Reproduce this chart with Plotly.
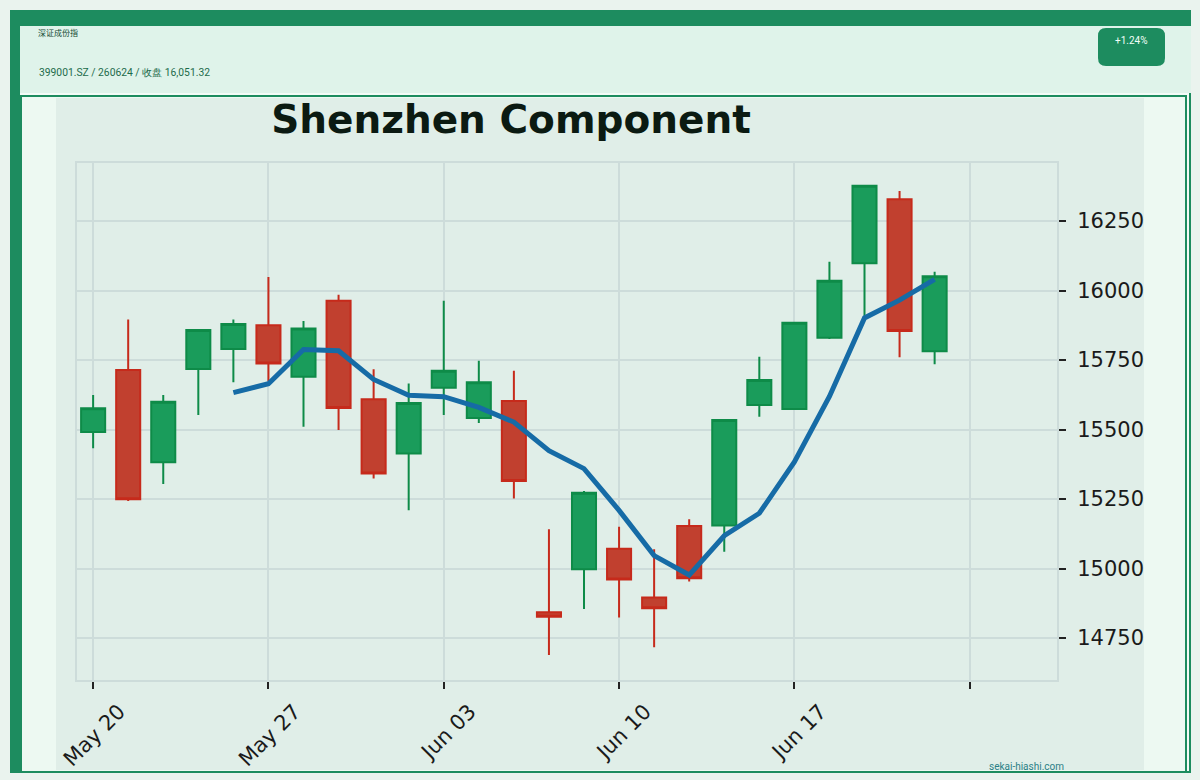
import plotly.graph_objects as go

# ---------------- data ----------------
dates = ["2024-05-20", "2024-05-21", "2024-05-22", "2024-05-23", "2024-05-24",
         "2024-05-27", "2024-05-28", "2024-05-29", "2024-05-30", "2024-05-31",
         "2024-06-03", "2024-06-04", "2024-06-05", "2024-06-06", "2024-06-07",
         "2024-06-10", "2024-06-11", "2024-06-12", "2024-06-13", "2024-06-14",
         "2024-06-17", "2024-06-18", "2024-06-19", "2024-06-20", "2024-06-21"]
opens = [15491, 15714, 15382, 15718, 15790,
         15875, 15690, 15963, 15609, 15414,
         15650, 15542, 15603, 14843, 14997,
         15071, 14896, 15153, 15155, 15588,
         15574, 15830, 16098, 16329, 15782]
highs = [15624, 15896, 15624, 15860, 15896,
         16049, 15891, 15985, 15717, 15666,
         15963, 15748, 15712, 15141, 15279,
         15150, 15069, 15177, 15537, 15762,
         15886, 16104, 16380, 16358, 16068]
lows = [15433, 15243, 15304, 15552, 15670,
        15674, 15510, 15498, 15324, 15210,
        15552, 15524, 15252, 14689, 14854,
        14824, 14717, 14953, 15060, 15546,
        15570, 15826, 15906, 15760, 15735]
closes = [15577, 15249, 15600, 15858, 15880,
          15738, 15864, 15578, 15342, 15596,
          15712, 15670, 15315, 14827, 15273,
          14961, 14857, 14965, 15534, 15678,
          15884, 16035, 16377, 15854.72, 16051.32]
ma5 = [None, None, None, None, 15632.8,
       15665.0, 15788.0, 15783.6, 15680.4, 15623.6,
       15618.4, 15579.6, 15527.0, 15424.0, 15359.4,
       15209.2, 15046.6, 14976.6, 15118.0, 15199.0,
       15383.6, 15619.2, 15901.6, 15965.7, 16040.4]
tick_index = [0, 5, 10, 15, 20, 25]
tick_labels = ["May 20", "May 27", "Jun 03", "Jun 10", "Jun 17", ""]
y_ticks = [14750, 15000, 15250, 15500, 15750, 16000, 16250]

title_text = "Shenzhen Component"
header_title = "深证成份指"
header_sub = "399001.SZ / 260624 / 收盘 16,051.32"
badge_text = "+1.24%"
watermark = "sekai-hiashi.com"

# ---------------- layout helpers ----------------
W, H = 1200, 780
def px(x):
    return x / W
def py(y):
    return 1 - y / H

GREEN = "#1d8c5f"
x_pos = list(range(len(dates)))

fig = go.Figure()
fig.add_trace(go.Candlestick(
    x=x_pos, open=opens, high=highs, low=lows, close=closes,
    increasing=dict(fillcolor="#1a9c5b", line=dict(color="#0e8b48", width=2)),
    decreasing=dict(fillcolor="#c1402f", line=dict(color="#c62a1b", width=2)),
    whiskerwidth=0, showlegend=False, hoverinfo="skip",
))
fig.add_trace(go.Scatter(
    x=x_pos, y=ma5, mode="lines",
    line=dict(color="#166ba6", width=5), showlegend=False, hoverinfo="skip",
))

shapes = []
def rect(x0, y0, x1, y1, fill, line_color=None, lw=0):
    shapes.append(dict(type="rect", xref="paper", yref="paper",
                       x0=px(x0), x1=px(x1), y0=py(y1), y1=py(y0),
                       fillcolor=fill, layer="below",
                       line=dict(color=line_color or fill, width=lw)))

rect(10, 10, 1191, 773, GREEN)
rect(20, 26, 1191, 93, "#dff3ea")
rect(20, 93, 1189, 771, "#f3fbf7")
rect(21, 96, 1186, 772, "#edf9f2", GREEN, 2)
rect(56, 98, 1144, 770, "#e0eee8")

# badge (rounded rectangle)
bx0, by0, bx1, by1, r = 1098, 28, 1165, 66, 8
pts = [
    f"M{px(bx0 + r)},{py(by0)}", f"L{px(bx1 - r)},{py(by0)}",
    f"Q{px(bx1)},{py(by0)} {px(bx1)},{py(by0 + r)}",
    f"L{px(bx1)},{py(by1 - r)}",
    f"Q{px(bx1)},{py(by1)} {px(bx1 - r)},{py(by1)}",
    f"L{px(bx0 + r)},{py(by1)}",
    f"Q{px(bx0)},{py(by1)} {px(bx0)},{py(by1 - r)}",
    f"L{px(bx0)},{py(by0 + r)}",
    f"Q{px(bx0)},{py(by0)} {px(bx0 + r)},{py(by0)}", "Z",
]
shapes.append(dict(type="path", xref="paper", yref="paper", path=" ".join(pts),
                   fillcolor=GREEN, line=dict(width=0), layer="above"))

annotations = [
    dict(text=header_title, x=px(36), y=py(33), xref="paper", yref="paper",
         xanchor="left", yanchor="middle", showarrow=False,
         font=dict(family="Noto Sans CJK SC", size=8, color="#134a33")),
    dict(text=header_sub, x=px(37), y=py(72), xref="paper", yref="paper",
         xanchor="left", yanchor="middle", showarrow=False,
         font=dict(family="Roboto", size=10.3, color="#1d6b4b")),
    dict(text=badge_text, x=px(1131.5), y=py(40), xref="paper", yref="paper",
         xanchor="center", yanchor="middle", showarrow=False,
         font=dict(family="Roboto", size=10, color="#f2fff8")),
    dict(text=watermark, x=px(1026), y=py(766), xref="paper", yref="paper",
         xanchor="center", yanchor="middle", showarrow=False,
         font=dict(family="Roboto", size=10, color="#2b7f86")),
]

AX_LINE = "#cddcda"
fig.update_layout(
    width=W, height=H,
    margin=dict(l=0, r=0, t=0, b=0, autoexpand=False),
    paper_bgcolor="#eaf3ee",
    plot_bgcolor="#e0eee8",
    boxgap=0.02, boxgroupgap=0.3,
    shapes=shapes,
    annotations=annotations,
    title=dict(text=f"<b>{title_text}</b>", x=px(511), y=py(119),
               xanchor="center", yanchor="middle", xref="paper", yref="container",
               font=dict(family="DejaVu Sans", size=39, color="#0b1a12")),
    xaxis=dict(
        domain=[px(77), px(1057)],
        range=[-0.46, 27.49],
        tickmode="array", tickvals=tick_index, ticktext=tick_labels,
        showgrid=True, gridcolor=AX_LINE, gridwidth=2,
        showline=True, mirror=True, linecolor=AX_LINE, linewidth=2,
        ticks="outside", ticklen=7, tickwidth=2, tickcolor="#222222",
        tickangle=-45, ticklabelshift=26, ticklabelstandoff=2,
        tickfont=dict(family="DejaVu Sans", size=21, color="#1a1a1a"),
        zeroline=False, rangeslider=dict(visible=False), fixedrange=True,
        automargin=False,
    ),
    yaxis=dict(
        domain=[py(680), py(163)],
        range=[14599, 16459],
        side="right",
        tickmode="array", tickvals=y_ticks, tickformat="d",
        showgrid=True, gridcolor=AX_LINE, gridwidth=2,
        showline=True, mirror=True, linecolor=AX_LINE, linewidth=2,
        ticks="outside", ticklen=7, tickwidth=2, tickcolor="#222222",
        ticklabelstandoff=7,
        tickfont=dict(family="DejaVu Sans", size=21, color="#1a1a1a"),
        zeroline=False, fixedrange=True,
        automargin=False,
    ),
)

fig.write_html("out.html", config=dict(displayModeBar=False),
               post_script="document.body.style.margin='0';document.body.style.background='#eaf3ee';")
